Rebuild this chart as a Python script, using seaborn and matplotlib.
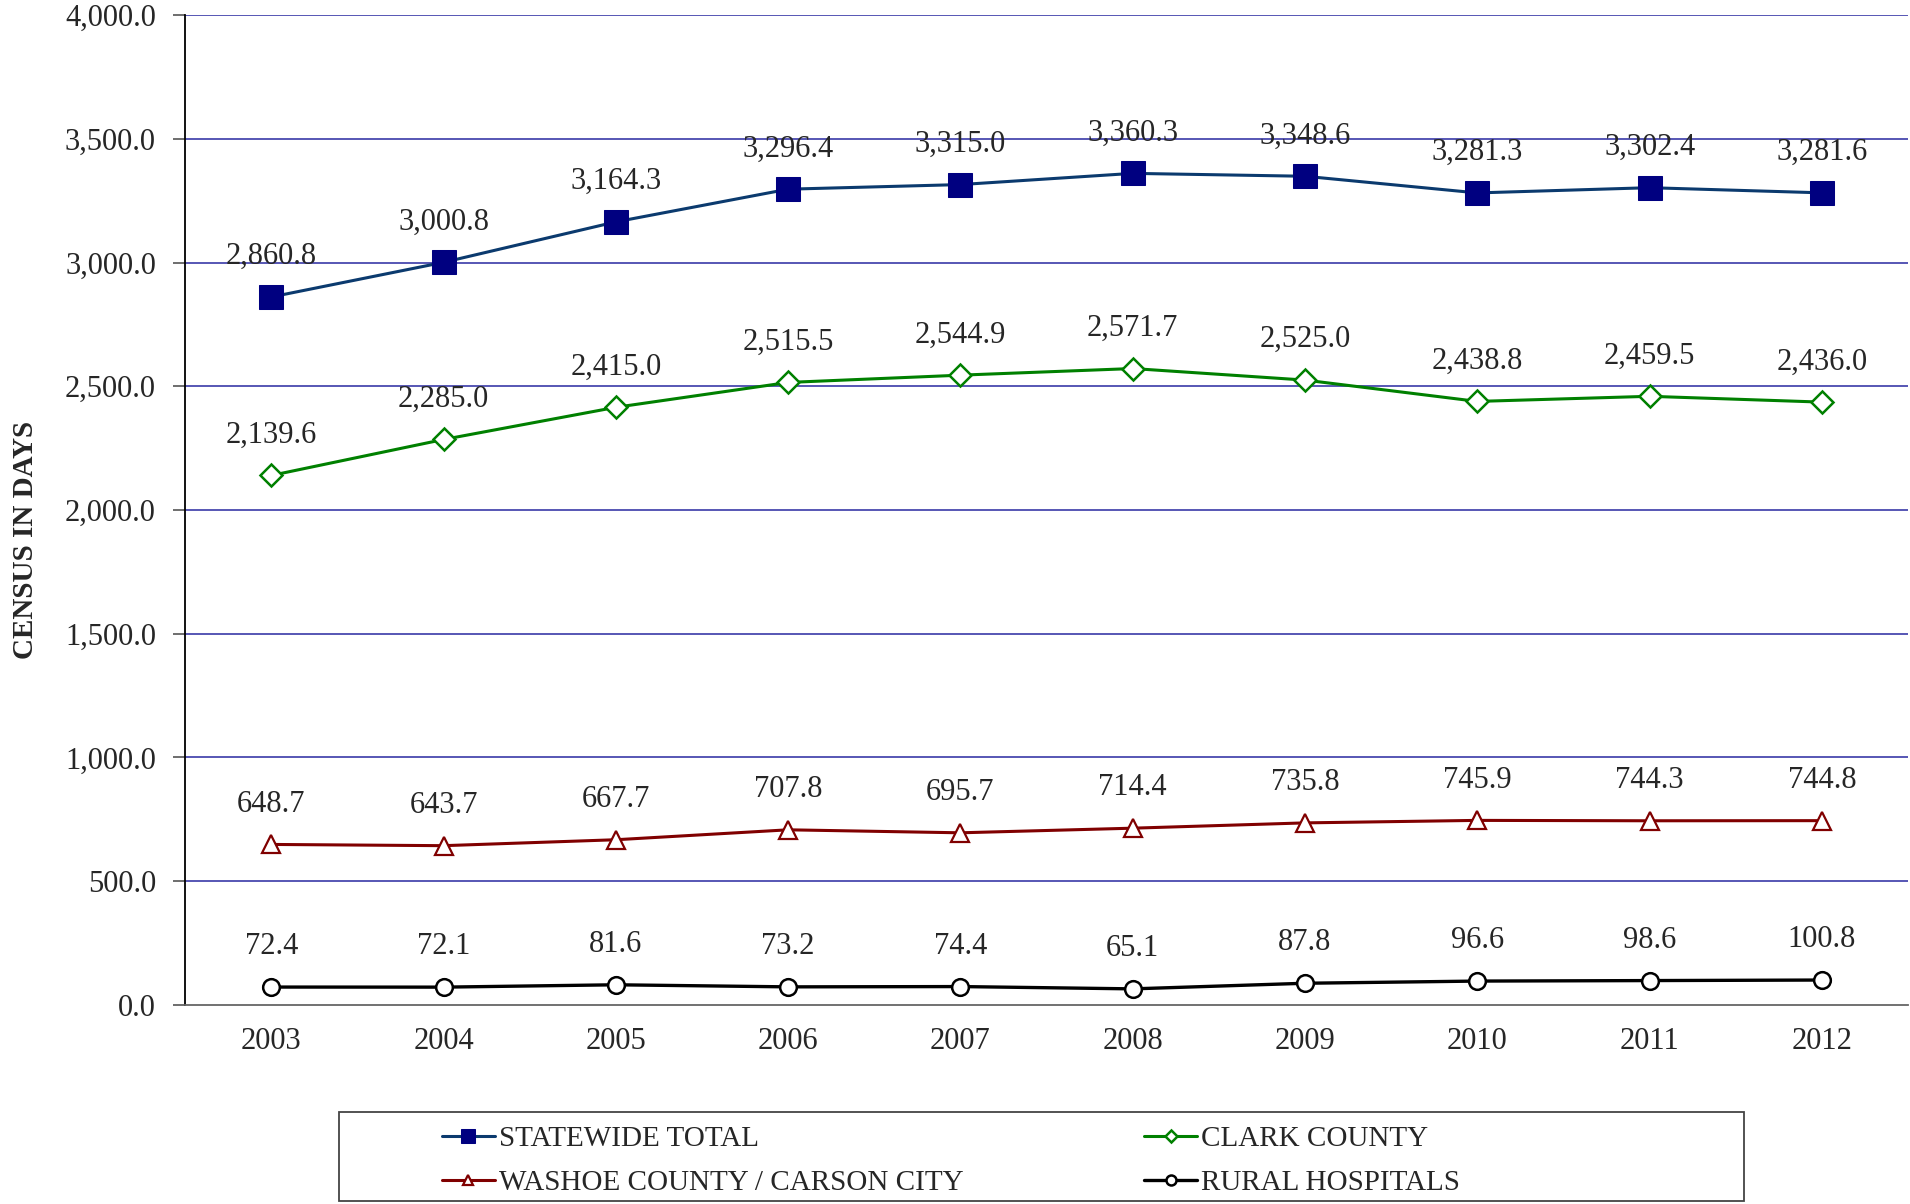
import numpy as np
import pandas as pd
import matplotlib
matplotlib.use("Agg")
import matplotlib.pyplot as plt
from matplotlib.patches import Rectangle
import seaborn as sns

# Average daily census by region, 2003-2012
years = [2003, 2004, 2005, 2006, 2007, 2008, 2009, 2010, 2011, 2012]
statewide = [2860.8, 3000.8, 3164.3, 3296.4, 3315.0, 3360.3, 3348.6, 3281.3, 3302.4, 3281.6]
clark = [2139.6, 2285.0, 2415.0, 2515.5, 2544.9, 2571.7, 2525.0, 2438.8, 2459.5, 2436.0]
washoe = [648.7, 643.7, 667.7, 707.8, 695.7, 714.4, 735.8, 745.9, 744.3, 744.8]
rural = [72.4, 72.1, 81.6, 73.2, 74.4, 65.1, 87.8, 96.6, 98.6, 100.8]

series_names = ["STATEWIDE TOTAL", "CLARK COUNTY",
                "WASHOE COUNTY / CARSON CITY", "RURAL HOSPITALS"]
y_ticks = [0, 500, 1000, 1500, 2000, 2500, 3000, 3500, 4000]

df = pd.DataFrame({
    "year": years * 4,
    "value": statewide + clark + washoe + rural,
    "series": sum([[n] * len(years) for n in series_names], []),
})

sns.set_style("white")
plt.rcParams["font.family"] = ["Liberation Serif", "DejaVu Serif"]
FS = 22

styles = {
    "STATEWIDE TOTAL": dict(color="#0B3A6E", marker="s", markersize=17,
                            markerfacecolor="#000080", markeredgecolor="#000080",
                            linewidth=2.2),
    "CLARK COUNTY": dict(color="#008000", marker="D", markersize=11,
                         markerfacecolor="white", markeredgecolor="#008000",
                         markeredgewidth=1.8, linewidth=2.2),
    "WASHOE COUNTY / CARSON CITY": dict(color="#800000", marker="^", markersize=13,
                                        markerfacecolor="white", markeredgecolor="#800000",
                                        markeredgewidth=1.6, linewidth=2.2),
    "RURAL HOSPITALS": dict(color="black", marker="o", markersize=12,
                            markerfacecolor="white", markeredgecolor="black",
                            markeredgewidth=1.8, linewidth=2.4),
}

fig = plt.figure(figsize=(19.10, 12.04), dpi=100)
ax = fig.add_axes([0.0969, 0.1653, 0.9021, 0.8222])

for name in series_names:
    sub = df[df["series"] == name]
    sns.lineplot(data=sub, x="year", y="value", ax=ax, label=name,
                 zorder=3, **styles[name])
    for x, v in zip(sub["year"], sub["value"]):
        ax.annotate(f"{v:,.1f}", (x, v), xytext=(0, 29), textcoords="offset points",
                    ha="center", va="center", fontsize=FS, zorder=4)

ax.set_xlim(2002.5, 2012.5)
ax.set_ylim(0, 4000)
ax.set_yticks(y_ticks)
ax.set_yticklabels([f"{t:,.1f}" for t in y_ticks], fontsize=FS)
ax.set_xticks(years)
ax.set_xticklabels([str(y) for y in years], fontsize=FS)
ax.set_xticks(np.arange(2002.5, 2013, 1), minor=True)
ax.tick_params(axis="x", which="major", length=0, pad=16)
ax.tick_params(axis="x", which="minor", length=8, color="#555555", width=1.2)
ax.tick_params(axis="y", which="major", length=9, color="#555555", width=1.2,
               pad=12, left=True)

ax.grid(False)
for t in y_ticks[1:]:
    ax.axhline(t, color="#3A3AA8", linewidth=1.2, zorder=1)

for side in ["top", "right"]:
    ax.spines[side].set_visible(False)
ax.spines["left"].set_color("black")
ax.spines["left"].set_linewidth(1.3)
ax.spines["bottom"].set_color("#666666")
ax.spines["bottom"].set_linewidth(1.3)

ax.set_xlabel("")
ax.set_ylabel("CENSUS IN DAYS", fontsize=21, fontweight="bold")
ax.yaxis.set_label_coords(-0.0845, 0.47)

handles, labels = ax.get_legend_handles_labels()
ax.get_legend().remove()
order = [0, 2, 1, 3]
fig.legend([handles[i] for i in order], [labels[i] for i in order],
           loc="upper left", bbox_to_anchor=(0.2185, 1 - 1101 / 1204),
           ncol=2, frameon=False, fontsize=21, handlelength=1.8,
           handletextpad=0.15, columnspacing=6.2, labelspacing=0.6,
           markerscale=0.6, borderpad=0.35)

fig.patches.append(Rectangle((339 / 1910, 1 - 1201 / 1204), (1744 - 339) / 1910,
                             (1201 - 1112) / 1204, transform=fig.transFigure,
                             fill=False, edgecolor="#444444", linewidth=1.3))

fig.savefig("out.png", dpi=100)
